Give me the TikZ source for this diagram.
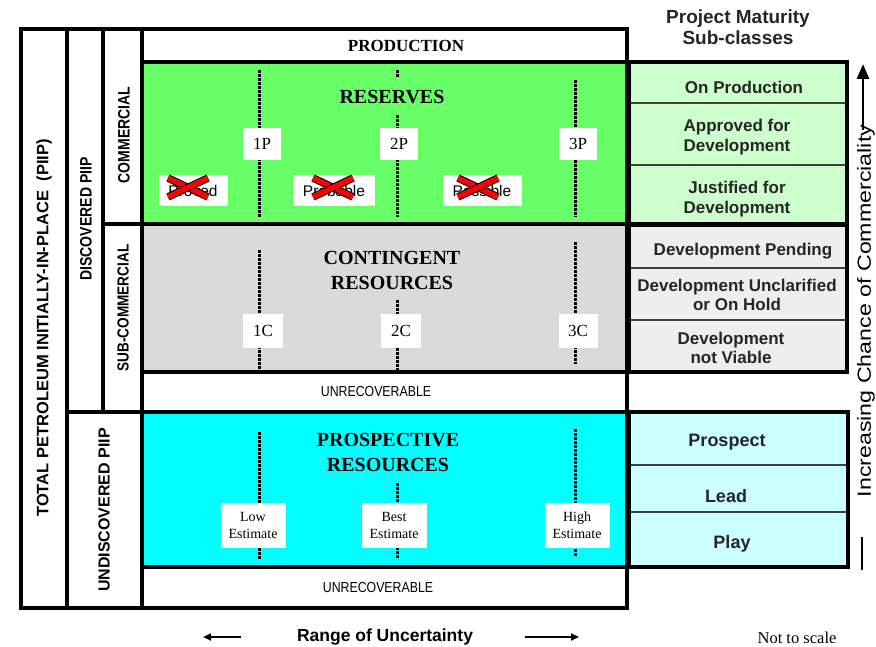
\documentclass[tikz,border=0pt]{standalone}
\usepackage{fontspec}
\setmainfont{Liberation Serif}
\setsansfont{Liberation Sans}
\newfontfamily\narrowsans[FakeStretch=0.85]{Liberation Sans}
\newfontfamily\widesans[FakeStretch=1.22]{Liberation Sans}
\usetikzlibrary{arrows.meta}
\definecolor{resgreen}{HTML}{66FF66}
\definecolor{congrey}{HTML}{DADADA}
\definecolor{procyan}{HTML}{00FFFF}
\definecolor{lgreen}{HTML}{CCFFCC}
\definecolor{lgrey}{HTML}{EEEEEE}
\definecolor{lcyan}{HTML}{CCFFFF}
\begin{document}
\begin{tikzpicture}[x=1pt,y=-1pt,
  frame/.style={line width=3.6pt},
  inner/.style={line width=3.4pt},
  dotline/.style={line width=3pt, dash pattern=on 2.6pt off 1.4pt},
  numbox/.style={fill=white, inner sep=0pt, minimum width=38pt, minimum height=32pt, font=\fontsize{17}{17}\selectfont},
  estbox/.style={fill=white, inner sep=0pt, minimum width=65pt, minimum height=45pt, align=center, font=\fontsize{14}{17}\selectfont},
  xbox/.style={fill=white, inner sep=0pt, minimum height=31pt, font=\sffamily\fontsize{15.5}{16}\selectfont},
  xout/.style={draw=black, line width=1pt, double=red, double distance=5.5pt},
  title/.style={font=\bfseries\fontsize{20}{25}\selectfont, align=center},
  sub/.style={font=\sffamily\bfseries\fontsize{17}{19.5}\selectfont, align=center, text=black!85},
  row/.style={draw=black!75, line width=1.3pt},
  tablebox/.style={line width=3.4pt},
  side/.style={rotate=90, font=\sffamily\bfseries\fontsize{16.5}{17}\selectfont},
  nside/.style={rotate=90, font=\narrowsans\bfseries\fontsize{16.5}{17}\selectfont},
  unrec/.style={font=\narrowsans\fontsize{14.5}{15}\selectfont},
  hdr/.style={font=\sffamily\bfseries\fontsize{19}{21}\selectfont, align=center, text=black!85},
]
\useasboundingbox (0,0) rectangle (876,647);

% ---- fills
\fill[resgreen] (142,62) rectangle (627,224);
\fill[congrey] (142,224) rectangle (627,372);
\fill[procyan] (142,412) rectangle (627,567);

% ---- dotted uncertainty lines
\coordinate (ra1) at (259,70);  \coordinate (rb1) at (259,217);
\coordinate (ra2) at (397,70);  \coordinate (rm2) at (397,77);
\coordinate (rn2) at (397,115); \coordinate (rb2) at (397,217);
\coordinate (ra3) at (575,80);  \coordinate (rb3) at (575,217);
\draw[dotline] (ra1) -- (rb1);
\draw[dotline] (ra2) -- (rm2);
\draw[dotline] (rn2) -- (rb2);
\draw[dotline] (ra3) -- (rb3);
\coordinate (ca1) at (259,250); \coordinate (cb1) at (259,370);
\coordinate (ca2) at (397,300); \coordinate (cb2) at (397,370);
\coordinate (ca3) at (575,242); \coordinate (cb3) at (575,364);
\draw[dotline] (ca1) -- (cb1);
\draw[dotline] (ca2) -- (cb2);
\draw[dotline] (ca3) -- (cb3);
\coordinate (pa1) at (259,432); \coordinate (pb1) at (259,559);
\coordinate (pa2) at (397,483); \coordinate (pb2) at (397,559);
\coordinate (pa3) at (575,429); \coordinate (pb3) at (575,557);
\draw[dotline] (pa1) -- (pb1);
\draw[dotline] (pa2) -- (pb2);
\draw[dotline] (pa3) -- (pb3);

% ---- titles
\node[font=\bfseries\fontsize{17}{17}\selectfont] (prod) at (406,46) {PRODUCTION};
\node[title] (reserves) at (392,97) {RESERVES};
\node[title] (contingent) at (392,270) {CONTINGENT\\RESOURCES};
\node[title] (prospective) at (388,452) {PROSPECTIVE\\RESOURCES};
\node[unrec] (unrec1) at (376,392) {UNRECOVERABLE};
\node[unrec] (unrec2) at (378,588) {UNRECOVERABLE};

% ---- number boxes
\node[numbox] (p1) at (262,144) {1P};
\node[numbox] (p2) at (399,144) {2P};
\node[numbox] (p3) at (578,144) {3P};
\node[numbox, minimum width=40pt, minimum height=34pt] (c1) at (263,331) {1C};
\node[numbox, minimum width=40pt, minimum height=34pt] (c2) at (401,331) {2C};
\node[numbox, minimum width=39pt, minimum height=34pt] (c3) at (578,331) {3C};
\node[estbox] (low) at (253,525) {Low\\Estimate};
\node[estbox] (best) at (394,525) {Best\\Estimate};
\node[estbox] (high) at (577,525) {High\\Estimate};

% ---- crossed out labels
\node[xbox, minimum width=69pt] (proved) at (193,191) {Proved};
\node[xbox, minimum width=82pt] (probable) at (334,191) {Probable};
\node[xbox, minimum width=79pt] (possible) at (482,191) {Possible};
\coordinate (x1a) at (168,178); \coordinate (x1b) at (208,197);
\coordinate (x1c) at (168,197); \coordinate (x1d) at (208,178);
\draw[xout] (x1a) -- (x1b); \draw[xout] (x1c) -- (x1d);
\coordinate (x2a) at (313,178); \coordinate (x2b) at (353,197);
\coordinate (x2c) at (313,197); \coordinate (x2d) at (353,178);
\draw[xout] (x2a) -- (x2b); \draw[xout] (x2c) -- (x2d);
\coordinate (x3a) at (458,178); \coordinate (x3b) at (498,197);
\coordinate (x3c) at (458,197); \coordinate (x3d) at (498,178);
\draw[xout] (x3a) -- (x3b); \draw[xout] (x3c) -- (x3d);

% ---- frame lines
\draw[inner] (142,62) -- (627,62);
\draw[inner] (103,224) -- (627,224);
\draw[inner] (142,372) -- (627,372);
\draw[inner] (67,412) -- (627,412);
\draw[inner] (142,567) -- (627,567);
\draw[inner] (67,29) -- (67,608);
\draw[inner] (103,29) -- (103,412);
\draw[inner] (142,29) -- (142,608);
\draw[frame] (21,29) rectangle (627,608);

% ---- left side labels
\node[side] (total) at (44,328) {TOTAL PETROLEUM INITIALLY-IN-PLACE\ \ (PIIP)};
\node[nside] (disc) at (86,219) {DISCOVERED PIIP};
\node[nside] (comm) at (124,135) {COMMERCIAL};
\node[nside, font=\narrowsans\bfseries\fontsize{16}{17}\selectfont] (subcomm) at (123,308) {SUB-COMMERCIAL};
\node[side, font=\sffamily\bfseries\fontsize{16}{17}\selectfont] (undisc) at (104,510) {UNDISCOVERED PIIP};

% ---- project maturity table
\node[hdr] (pmhdr) at (738,27) {Project Maturity\\Sub-classes};
\fill[lgreen] (629,62) rectangle (847,224);
\draw[row] (629,103) -- (847,103);
\draw[row] (629,165) -- (847,165);
\draw[tablebox] (629,62) rectangle (847,224);
\node[sub] (onprod) at (744,87) {On Production};
\node[sub] (approved) at (737,137) {Approved for\\Development};
\node[sub] (justified) at (737,199) {Justified for\\Development};

\fill[lgrey] (629,225) rectangle (847,372);
\draw[row] (629,268) -- (847,268);
\draw[row] (629,320) -- (847,320);
\draw[tablebox] (629,225) rectangle (847,372);
\node[sub] (pending) at (743,251) {Development Pending};
\node[sub] (unclar) at (737,295) {Development Unclarified\\or On Hold};
\node[sub] (notviable) at (731,348) {Development\\not Viable};

\fill[lcyan] (629,412) rectangle (848,567);
\draw[row] (629,465) -- (848,465);
\draw[row] (629,512) -- (848,512);
\draw[tablebox] (629,412) rectangle (848,567);
\node[sub, font=\sffamily\bfseries\fontsize{18}{20}\selectfont] (prospect) at (727,442) {Prospect};
\node[sub, font=\sffamily\bfseries\fontsize{18}{20}\selectfont] (lead) at (726,496) {Lead};
\node[sub, font=\sffamily\bfseries\fontsize{18}{20}\selectfont] (play) at (732,544) {Play};

% ---- commerciality axis
\node[rotate=90, font=\widesans\fontsize{19}{20}\selectfont] (incr) at (866,311) {Increasing Chance of Commerciality};
\coordinate (ua) at (863,130); \coordinate (ub) at (863,64);
\draw[line width=2.8pt, -{Triangle[length=15pt, width=12pt]}] (ua) -- (ub);
\coordinate (la) at (862,537); \coordinate (lb) at (862,570);
\draw[line width=2.8pt] (la) -- (lb);

% ---- uncertainty axis
\node[font=\sffamily\bfseries\fontsize{17.5}{18}\selectfont] (range) at (385,637) {Range of Uncertainty};
\coordinate (al) at (241,637); \coordinate (bl) at (203,637);
\draw[line width=2.2pt, -{Triangle[length=8pt, width=7pt]}] (al) -- (bl);
\coordinate (ar) at (525,637); \coordinate (br) at (579,637);
\draw[line width=2.2pt, -{Triangle[length=8pt, width=7pt]}] (ar) -- (br);
\node[font=\fontsize{16.5}{17}\selectfont] (nts) at (797,638) {Not to scale};
\end{tikzpicture}
\end{document}
